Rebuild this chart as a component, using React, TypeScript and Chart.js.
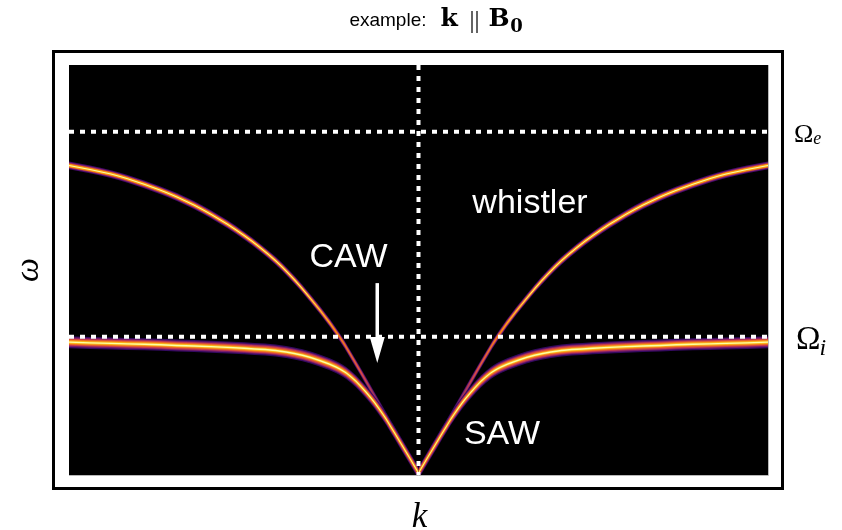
import React, { useEffect, useRef } from "react";
import { Chart, registerables } from "chart.js";

Chart.register(...registerables);

// ---- data (k in [-1, 1], ω in [0, 1]) ----
// Resonance frequencies (dotted horizontal lines)
const OMEGA_E = 0.837;
const OMEGA_I = 0.337;
const K_ZERO = 0;

// Whistler / CAW branch, right half (k >= 0); the left half is its mirror image
const upperK = [0, 0.04, 0.084, 0.122, 0.17, 0.226, 0.333, 0.408, 0.499, 0.594, 0.691, 0.785, 0.88, 1.0];
const upperW = [0.005, 0.068, 0.131, 0.187, 0.258, 0.337, 0.455, 0.522, 0.584, 0.636, 0.678, 0.709, 0.734, 0.755];

// SAW branch, right half (k >= 0); the left half is its mirror image
const lowerK = [0, 0.056, 0.104, 0.15, 0.207, 0.285, 0.379, 0.499, 0.594, 0.691, 0.785, 0.88, 1.0];
const lowerW = [0.005, 0.085, 0.151, 0.202, 0.249, 0.28, 0.3, 0.309, 0.313, 0.316, 0.319, 0.321, 0.324];

// Labels
const titleText = "example:";
const yLabel = "ω";
const xLabel = "k";
const curveLabels = ["whistler", "CAW", "SAW"];

// ---- helpers ----
type P = { x: number; y: number };
const toPts = (ks: number[], ws: number[], sign: number): P[] => {
  const pts = ks.map((k, i) => ({ x: sign * k, y: ws[i] }));
  return sign < 0 ? pts.reverse() : pts;
};

const gradientFill = (stops: [number, string][], fallback: string) => (c: any) => {
  const chart = c.chart;
  const ys = chart.scales && chart.scales.y;
  if (!chart.chartArea || !ys) return fallback;
  const y0 = ys.getPixelForValue(0);
  const y1 = ys.getPixelForValue(0.6);
  const g = chart.ctx.createLinearGradient(0, y0, 0, y1);
  stops.forEach(([w, col]) => g.addColorStop(Math.min(1, w / 0.6), col));
  return g;
};

function bandDatasets(points: P[], half: number, color: any, order: number) {
  const common = {
    borderWidth: 0,
    borderColor: "transparent",
    pointRadius: 0,
    cubicInterpolationMode: "monotone" as const,
    order,
  };
  return [
    { ...common, data: points.map((p) => ({ x: p.x, y: p.y + half })), fill: "+1", backgroundColor: color },
    { ...common, data: points.map((p) => ({ x: p.x, y: p.y - half })), fill: false, backgroundColor: "transparent" },
  ];
}

const px = 1 / 410; // one screen pixel in ω units (style constant for band widths)

// SAW band layers: outer -> inner
const lowerLayers: [number, string][] = [
  [6.0 * px, "#330a5f"],
  [4.8 * px, "#7a1d6d"],
  [3.7 * px, "#c73e4c"],
  [2.6 * px, "#ef6e21"],
  [1.6 * px, "#fbb61a"],
  [0.7 * px, "#fcffa4"],
];

// Whistler / CAW band layers: outer -> inner, dimming towards small ω
const upperLayers: [number, [number, string][]][] = [
  [3.9 * px, [[0, "#10072a"], [0.15, "#250a4f"], [0.25, "#360a5e"], [0.35, "#420a68"], [0.6, "#420a68"]]],
  [2.9 * px, [[0, "#140a35"], [0.15, "#46106b"], [0.25, "#7a1d6d"], [0.35, "#932667"], [0.6, "#932667"]]],
  [2.0 * px, [[0, "#180b3c"], [0.15, "#64156e"], [0.25, "#b43359"], [0.35, "#dd513a"], [0.45, "#f37819"], [0.6, "#f37819"]]],
  [1.2 * px, [[0, "#180b3c"], [0.15, "#6f196e"], [0.25, "#d24644"], [0.35, "#f37819"], [0.45, "#fca50a"], [0.6, "#fca50a"]]],
  [0.5 * px, [[0, "#180b3c"], [0.15, "#761b6d"], [0.25, "#e2573a"], [0.35, "#fb9b06"], [0.45, "#fcffa4"], [0.6, "#fcffa4"]]],
];

function buildDatasets() {
  const ds: any[] = [];
  // dotted reference lines (on top)
  const dotted = {
    borderColor: "#ffffff",
    borderWidth: 4,
    borderDash: [5, 6],
    borderCapStyle: "butt",
    pointRadius: 0,
    fill: false,
    tension: 0,
    order: 0,
  };
  ds.push({ ...dotted, data: [{ x: -1, y: OMEGA_E }, { x: 1, y: OMEGA_E }] });
  ds.push({ ...dotted, data: [{ x: -1, y: OMEGA_I }, { x: 1, y: OMEGA_I }] });
  ds.push({ ...dotted, data: [{ x: K_ZERO, y: 1 }, { x: K_ZERO, y: 0 }] });

  // SAW (drawn above the whistler/CAW band)
  const lowerHalves = [toPts(lowerK, lowerW, -1), toPts(lowerK, lowerW, 1)];
  lowerLayers.forEach(([half, col], i) => {
    const order = 20 - i;
    lowerHalves.forEach((pts) => ds.push(...bandDatasets(pts, half, col, order)));
  });

  // Whistler / CAW
  const upperHalves = [toPts(upperK, upperW, -1), toPts(upperK, upperW, 1)];
  upperLayers.forEach(([half, stops], i) => {
    const order = 40 - i;
    const col = gradientFill(stops, stops[stops.length - 1][1]);
    upperHalves.forEach((pts) => ds.push(...bandDatasets(pts, half, col, order)));
  });
  return ds;
}

const framePlugin = {
  id: "frameAndText",
  beforeDraw(chart: any) {
    const { ctx, chartArea: a } = chart;
    ctx.save();
    ctx.fillStyle = "#ffffff";
    ctx.fillRect(0, 0, chart.width, chart.height);
    // outer frame
    ctx.strokeStyle = "#000000";
    ctx.lineWidth = 3;
    const l = a.left - 15.5, t = a.top - 13.5, r = a.right + 14.5, b = a.bottom + 13.5;
    ctx.strokeRect(l, t, r - l, b - t);
    // plot background
    ctx.fillStyle = "#000000";
    ctx.fillRect(a.left, a.top, a.right - a.left, a.bottom - a.top);
    ctx.restore();
  },
  afterDraw(chart: any) {
    const { ctx, chartArea: a } = chart;
    const xs = chart.scales.x;
    const ys = chart.scales.y;
    ctx.save();
    // faint edge on right / bottom of the image
    ctx.strokeStyle = "#b8b8b8";
    ctx.lineWidth = 1;
    ctx.beginPath();
    ctx.moveTo(a.right + 0.5, a.top);
    ctx.lineTo(a.right + 0.5, a.bottom + 0.5);
    ctx.lineTo(a.left, a.bottom + 0.5);
    ctx.stroke();

    // labels inside the plot
    ctx.fillStyle = "#ffffff";
    ctx.textAlign = "center";
    ctx.textBaseline = "alphabetic";
    ctx.font = '34px "Liberation Sans", Arial, sans-serif';
    ctx.fillText(curveLabels[0], xs.getPixelForValue(0.319), ys.getPixelForValue(0.639));
    ctx.fillText(curveLabels[1], xs.getPixelForValue(-0.2), ys.getPixelForValue(0.507));
    ctx.fillText(curveLabels[2], xs.getPixelForValue(0.239), ys.getPixelForValue(0.0756));

    // arrow
    const ax = xs.getPixelForValue(-0.118);
    const ay0 = ys.getPixelForValue(0.468);
    const ay1 = ys.getPixelForValue(0.273);
    ctx.strokeStyle = "#ffffff";
    ctx.lineWidth = 3.5;
    ctx.beginPath();
    ctx.moveTo(ax, ay0);
    ctx.lineTo(ax, ay1 - 22);
    ctx.stroke();
    ctx.beginPath();
    ctx.moveTo(ax - 7.5, ay1 - 26);
    ctx.lineTo(ax + 7.5, ay1 - 26);
    ctx.lineTo(ax, ay1);
    ctx.closePath();
    ctx.fill();

    // outside labels
    ctx.fillStyle = "#000000";
    // title
    const cx = (a.left + a.right) / 2;
    const tb = 26;
    ctx.textAlign = "right";
    ctx.font = '19px "Liberation Sans", Arial, sans-serif';
    ctx.fillText(titleText, cx + 8, tb);
    ctx.textAlign = "left";
    ctx.font = 'bold 25px "DejaVu Serif", "Liberation Serif", serif';
    ctx.fillText("k", cx + 22, tb);
    ctx.font = '25px "Liberation Serif", "DejaVu Serif", serif';
    ctx.fillText("||", cx + 51, tb + 2);
    ctx.font = 'bold 25px "DejaVu Serif", "Liberation Serif", serif';
    ctx.fillText("B", cx + 70, tb);
    const bw = ctx.measureText("B").width;
    ctx.font = 'bold 18px "DejaVu Serif", "Liberation Serif", serif';
    ctx.fillText("0", cx + 70 + bw + 0.5, tb + 6);

    // ω (rotated)
    ctx.save();
    ctx.translate(a.left - 31, (a.top + a.bottom) / 2);
    ctx.rotate(-Math.PI / 2);
    ctx.textAlign = "center";
    ctx.font = 'italic 34px "Liberation Serif", "DejaVu Serif", serif';
    ctx.fillText(yLabel, 0, 0);
    ctx.restore();

    // k
    ctx.textAlign = "center";
    ctx.font = 'italic 35px "Liberation Serif", "DejaVu Serif", serif';
    ctx.fillText(xLabel, cx + 1, chart.height - 3);

    // Ω_e and Ω_i
    ctx.textAlign = "left";
    const ye = ys.getPixelForValue(OMEGA_E);
    ctx.font = '26px "Liberation Serif", "DejaVu Serif", serif';
    ctx.fillText("Ω", a.right + 26, ye + 10);
    let w = ctx.measureText("Ω").width;
    ctx.font = 'italic 18px "Liberation Serif", "DejaVu Serif", serif';
    ctx.fillText("e", a.right + 26 + w, ye + 12);

    const yi = ys.getPixelForValue(OMEGA_I);
    ctx.font = '33px "Liberation Serif", "DejaVu Serif", serif';
    ctx.fillText("Ω", a.right + 28, yi + 12);
    w = ctx.measureText("Ω").width;
    ctx.font = 'italic 24px "Liberation Serif", "DejaVu Serif", serif';
    ctx.fillText("i", a.right + 28 + w - 1, yi + 18);
    ctx.restore();
  },
};

export default function App() {
  const ref = useRef<HTMLCanvasElement | null>(null);
  useEffect(() => {
    if (!ref.current) return;
    const chart = new Chart(ref.current, {
      type: "line",
      data: { datasets: buildDatasets() },
      options: {
        responsive: false,
        animation: false,
        devicePixelRatio: 1,
        events: [],
        layout: { padding: { left: 69, right: 74, top: 65, bottom: 55 } },
        plugins: {
          legend: { display: false },
          tooltip: { enabled: false },
          title: { display: false },
        },
        scales: {
          x: { type: "linear", min: -1, max: 1, display: false },
          y: { type: "linear", min: 0, max: 1, display: false },
        },
        elements: { point: { radius: 0, hoverRadius: 0 } },
      },
      plugins: [framePlugin],
    } as any);
    return () => chart.destroy();
  }, []);
  return (
    <div style={{ position: "fixed", left: 0, top: 0, width: 842, height: 530, background: "#fff" }}>
      <canvas ref={ref} width={842} height={530} style={{ display: "block" }} />
    </div>
  );
}
